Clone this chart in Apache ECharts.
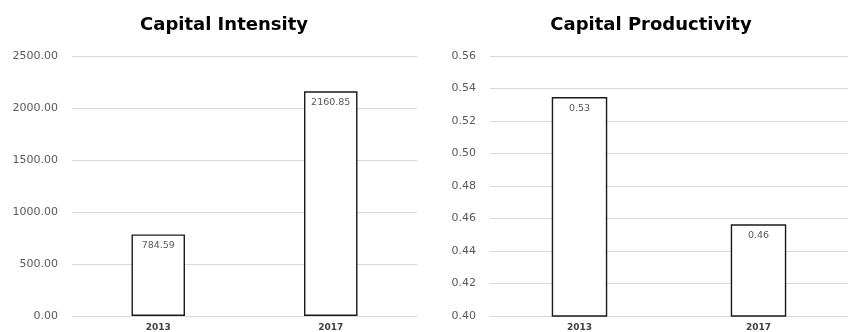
<!DOCTYPE html>
<html>
<head>
<meta charset="utf-8">
<script src="https://cdn.jsdelivr.net/npm/echarts@6/dist/echarts.min.js"></script>
<style>
  html, body { margin: 0; padding: 0; background: #fff; }
  #chart { width: 848px; height: 332px; }
</style>
</head>
<body>
<div id="chart"></div>
<script>
// Years shared by both panels
const years = ['2013', '2017'];

// Capital Intensity (left panel)
const intensityValues = [784.59, 2160.85];
const intensityTicks = { min: 0, max: 2500, interval: 500 };

// Capital Productivity (right panel)
const productivityValues = [0.5347, 0.4564];
const productivityTicks = { min: 0.40, max: 0.56, interval: 0.02 };

const titles = ['Capital Intensity', 'Capital Productivity'];

const chart = echarts.init(document.getElementById('chart'), null, { renderer: 'canvas' });

const gridLineColor = '#d9d9d9';
const labelFont = 'DejaVu Sans';

function xAxisFor(gridIndex) {
  return {
    type: 'category',
    gridIndex: gridIndex,
    data: years,
    axisTick: { show: false },
    axisLine: { show: true, lineStyle: { color: gridLineColor, width: 1 } },
    axisLabel: { color: '#404040', fontFamily: labelFont, fontSize: 9, fontWeight: 'bold', margin: 7 }
  };
}

function yAxisFor(gridIndex, ticks) {
  return {
    type: 'value',
    gridIndex: gridIndex,
    min: ticks.min,
    max: ticks.max,
    interval: ticks.interval,
    axisLine: { show: false },
    axisTick: { show: false },
    splitLine: { lineStyle: { color: gridLineColor, width: 1 } },
    axisLabel: {
      color: '#595959', fontFamily: labelFont, fontSize: 11, margin: 14,
      formatter: v => v.toFixed(2)
    }
  };
}

function barSeries(axisIndex, values) {
  return {
    type: 'bar',
    xAxisIndex: axisIndex,
    yAxisIndex: axisIndex,
    data: values,
    barWidth: '31%',
    itemStyle: { color: '#ffffff', borderColor: '#1a1a1a', borderWidth: 1.4 },
    label: {
      show: true,
      position: 'insideTop',
      distance: 6,
      color: '#595959',
      fontFamily: labelFont,
      fontSize: 9.5,
      formatter: p => p.value.toFixed(2)
    },
    emphasis: { disabled: true },
    animation: false
  };
}

const titleStyle = { fontFamily: 'DejaVu Sans', fontWeight: 'bold', fontSize: 18, color: '#000' };

chart.setOption({
  animation: false,
  title: [
    { text: titles[0], left: 219, top: 11, textAlign: 'center', textStyle: titleStyle },
    { text: titles[1], left: 646, top: 11, textAlign: 'center', textStyle: titleStyle }
  ],
  grid: [
    { left: 72, width: 345, top: 56, height: 261, containLabel: false },
    { left: 490, width: 368, top: 56, height: 261, containLabel: false }
  ],
  xAxis: [xAxisFor(0), xAxisFor(1)],
  yAxis: [yAxisFor(0, intensityTicks), yAxisFor(1, productivityTicks)],
  series: [barSeries(0, intensityValues), barSeries(1, productivityValues)]
});
</script>
</body>
</html>
